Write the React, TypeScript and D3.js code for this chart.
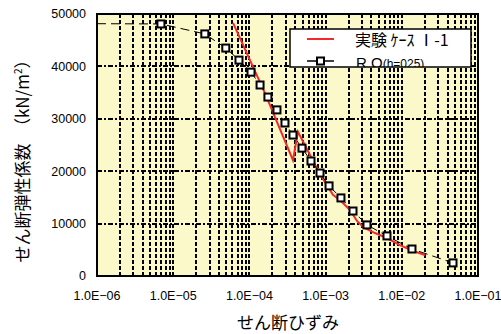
import * as d3 from "d3";

const width = 501;
const height = 334;
const margin = { top: 14, right: 23, bottom: 58, left: 97 };

// axis ticks
const strainTicks = [1e-6, 1e-5, 1e-4, 1e-3, 1e-2, 1e-1];
const strainLabels = ["1.0E-06", "1.0E-05", "1.0E-04", "1.0E-03", "1.0E-02", "1.0E-01"];
const gTicks = [0, 10000, 20000, 30000, 40000, 50000];

// experiment (case I-1)
const expStrain = [
  6.1e-5, 1.6e-4, 3.73e-4, 4.34e-4, 7.94e-4, 9.82e-4, 1.25e-3, 1.59e-3, 2.09e-3,
  2.58e-3, 3.19e-3, 4.45e-3, 6.39e-3, 9.46e-3, 1.41e-2, 2.01e-2,
];
const expG = [
  48300, 34900, 22100, 27500, 20200, 17900, 15500, 14300, 12600, 10500, 9200,
  8200, 7250, 5900, 4770, 4000,
];

// R-O model (h=0.25)
const roStrain = [
  6.9e-6, 2.6e-5, 4.9e-5, 7.3e-5, 1.05e-4, 1.38e-4, 1.75e-4, 2.3e-4, 2.93e-4,
  3.73e-4, 4.9e-4, 6.43e-4, 8.45e-4, 1.11e-3, 1.59e-3, 2.29e-3, 3.49e-3, 6.39e-3,
  1.36e-2, 4.7e-2,
];
const roG = [
  48100, 46200, 43500, 41200, 38900, 36450, 34150, 31700, 29200, 26900, 24400,
  21950, 19650, 17200, 14900, 12400, 9750, 7650, 5150, 2500,
];
const roStart = { strain: 1e-6, g: 48150 };

const legendLabels = ["実験 ｹｰｽ Ⅰ-1", "R O"];

const App = () => {
  const x = d3
    .scaleLog()
    .domain([1e-6, 1e-1])
    .range([margin.left, width - margin.right]);
  const y = d3
    .scaleLinear()
    .domain([0, 50000])
    .range([height - margin.bottom, margin.top]);

  // minor log grid 1..9 per decade
  const minorTicks: number[] = [];
  for (let e = -6; e < -1; e++) {
    for (let m = 1; m <= 9; m++) {
      if (e === -6 && m === 1) continue;
      minorTicks.push(m * Math.pow(10, e));
    }
  }

  const line = d3
    .line<[number, number]>()
    .x((d) => x(d[0]))
    .y((d) => y(d[1]));

  const expPath = line(expStrain.map((s, i) => [s, expG[i]]));
  const roPath = line([
    [roStart.strain, roStart.g],
    ...roStrain.map((s, i) => [s, roG[i]] as [number, number]),
  ]);

  const [x0, x1] = x.range();
  const [y0, y1] = y.range();
  const numFont = "'Liberation Sans', Arial, sans-serif";
  const jpFont = "'Noto Sans CJK JP', sans-serif";

  const lg = { x: 290, y: 29, w: 181, h: 38 };

  return (
    <svg
      width={width}
      height={height}
      style={{ position: "absolute", left: 0, top: 0, background: "#fff" }}
    >
      <defs>
        <clipPath id="legendClip">
          <rect x={lg.x} y={lg.y} width={lg.w} height={lg.h} />
        </clipPath>
      </defs>
      <rect x={x0} y={y1} width={x1 - x0} height={y0 - y1} fill="#FBF8C9" />

      {/* grid, snapped to whole pixels so the dashes stay dark */}
      {minorTicks.map((t, i) => {
        const px = Math.round(x(t));
        return (
          <line
            key={"v" + i}
            x1={px}
            x2={px}
            y1={y1}
            y2={y0}
            stroke="#000"
            strokeWidth={2}
            strokeDasharray="4,2"
          />
        );
      })}
      {gTicks.slice(1, -1).map((t) => {
        const py = Math.round(y(t));
        return (
          <line
            key={"h" + t}
            x1={x0}
            x2={x1}
            y1={py}
            y2={py}
            stroke="#000"
            strokeWidth={2}
            strokeDasharray="5,2,2,2"
          />
        );
      })}
      <rect
        x={x0}
        y={y1}
        width={x1 - x0}
        height={y0 - y1}
        fill="none"
        stroke="#000"
        strokeWidth={2}
      />

      {/* series */}
      <path d={expPath ?? ""} fill="none" stroke="#F42A2A" strokeWidth={2} />
      <path
        d={roPath ?? ""}
        fill="none"
        stroke="#000"
        strokeWidth={1}
        strokeDasharray="9,5"
      />
      {roStrain.map((s, i) => (
        <rect
          key={"m" + i}
          x={x(s) - 3.5}
          y={y(roG[i]) - 3.5}
          width={7}
          height={7}
          fill="#fff"
          stroke="#000"
          strokeWidth={2}
        />
      ))}

      {/* legend */}
      <rect x={lg.x} y={lg.y} width={lg.w} height={lg.h} fill="#fff" stroke="#000" strokeWidth={1.5} />
      <line x1={307} x2={334} y1={39} y2={39} stroke="#F42A2A" strokeWidth={2} />
      <line x1={307} x2={334} y1={61} y2={61} stroke="#000" strokeWidth={1.5} />
      <rect x={317} y={57.5} width={7} height={7} fill="#fff" stroke="#000" strokeWidth={2} />
      <g clipPath="url(#legendClip)">
        <text x={355} y={46} fontFamily={jpFont} fontSize={16} fill="#000">
          {legendLabels[0]}
        </text>
        <text x={356} y={68} fontFamily={numFont} fontSize={15} fill="#000">
          {legendLabels[1]}
          <tspan fontSize={12}>(h=025)</tspan>
        </text>
      </g>

      {/* axis labels */}
      {gTicks.map((t) => (
        <text
          key={"yl" + t}
          x={86}
          y={y(t)}
          dy="0.35em"
          textAnchor="end"
          fontFamily={numFont}
          fontSize={12.5}
          fill="#000"
        >
          {t}
        </text>
      ))}
      {strainTicks.map((t, i) => (
        <text
          key={"xl" + i}
          x={x(t)}
          y={300}
          textAnchor="middle"
          fontFamily={numFont}
          fontSize={12.5}
          fill="#000"
        >
          {strainLabels[i].replace("-", "\u2212")}
        </text>
      ))}
      <text
        x={288}
        y={329}
        textAnchor="middle"
        fontFamily={jpFont}
        fontSize={17}
        fill="#000"
      >
        せん断ひずみ
      </text>
      <text
        transform="translate(23,157) rotate(-90)"
        textAnchor="middle"
        dy="0.35em"
        fontFamily={jpFont}
        fontSize={17}
        fill="#000"
      >
        せん断弾性係数　（kN/m
        <tspan fontSize={10} dy={-7}>2</tspan>
        <tspan dy={7}>）</tspan>
      </text>
    </svg>
  );
};

export default App;
